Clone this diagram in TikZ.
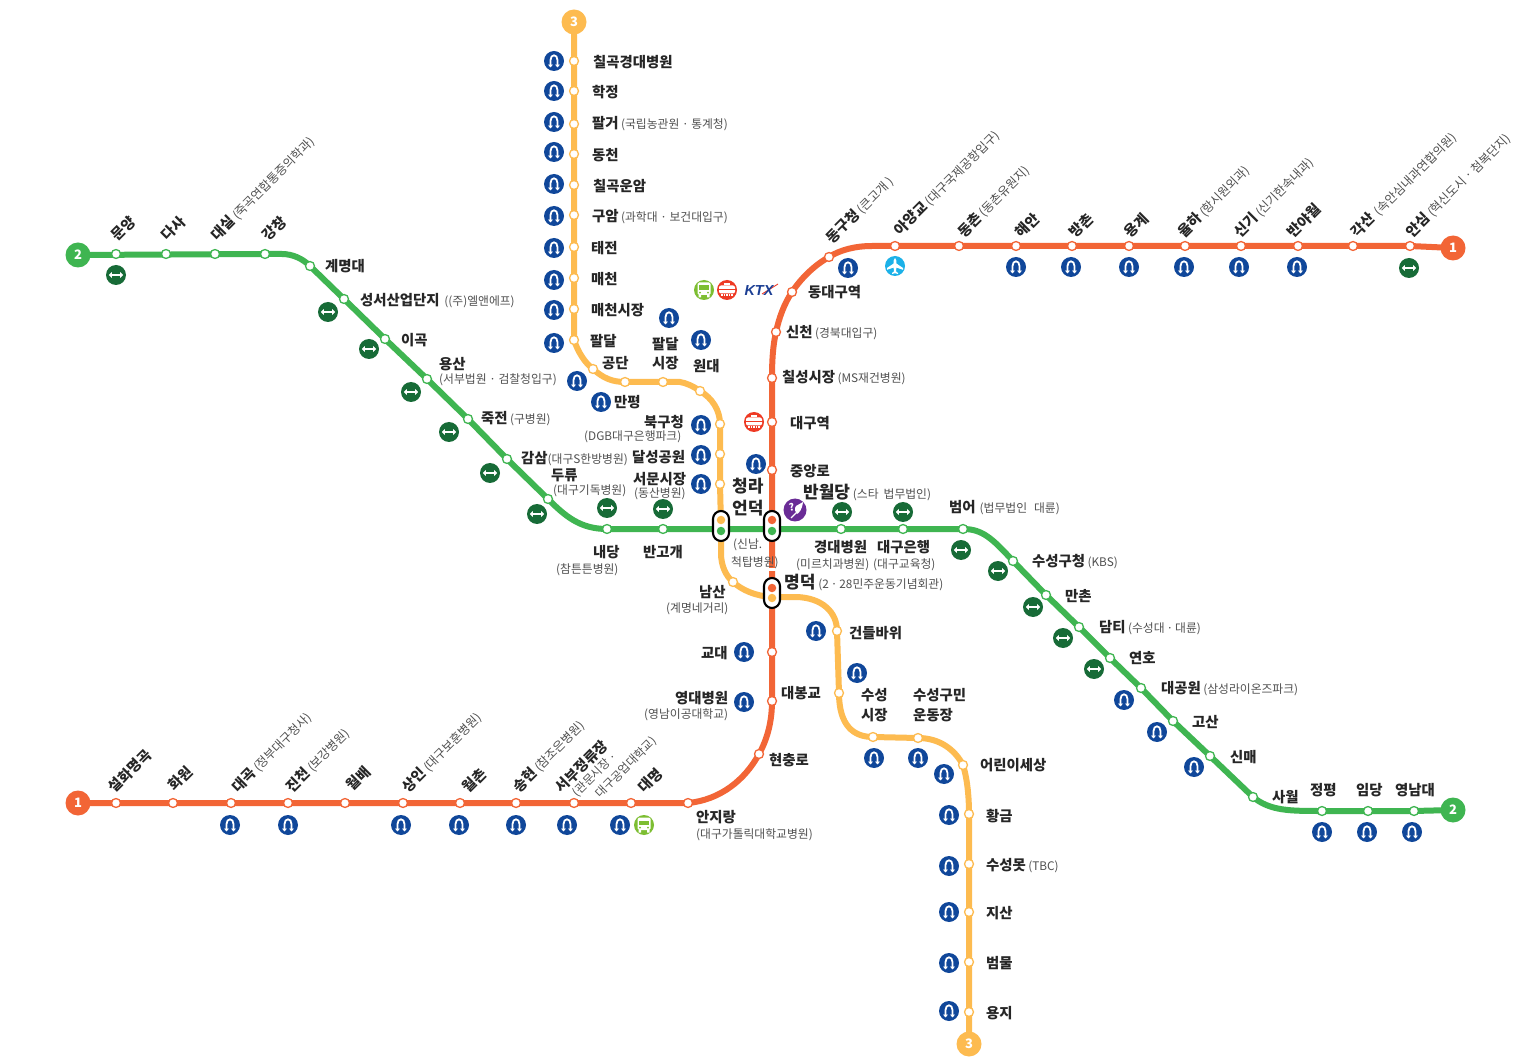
\documentclass[tikz,border=0pt]{standalone}
\usepackage{fontspec}
\setmainfont{Noto Sans CJK KR}
\newfontfamily\ktxfont{Liberation Sans}
\usetikzlibrary{arrows.meta,backgrounds}
\definecolor{lineA}{HTML}{F26536}
\definecolor{lineB}{HTML}{3FB551}
\definecolor{lineC}{HTML}{FDBB50}
\definecolor{subblue}{HTML}{10479A}
\definecolor{trgreen}{HTML}{176B37}
\definecolor{busgreen}{HTML}{7DBE32}
\definecolor{trainred}{HTML}{EE3A24}
\definecolor{aircyan}{HTML}{1CB1E8}
\definecolor{purp}{HTML}{6A2C96}
\definecolor{ktxblue}{HTML}{1C3F94}
\definecolor{txtgrey}{HTML}{505050}
\newcounter{nm}
\newcommand\pa[1]{{\mdseries\fontsize{11.8}{13}\selectfont\color{txtgrey}#1}}
\newcommand\rp[1]{{\mdseries\fontsize{12.3}{13}\selectfont\color{txtgrey}#1}}
\newcommand\lb[3]{\stepcounter{nm}\node[lab] (lab\arabic{nm}) at (#1,{#2+1}) {#3};}
\newcommand\bg[3]{\stepcounter{nm}\node[lab,font=\bfseries\fontsize{17}{18}\selectfont] (lab\arabic{nm}) at (#1,{#2+1}) {#3};}
\newcommand\rb[3]{\stepcounter{nm}\node[lab,rotate=45] (lab\arabic{nm}) at ({#1+3},#2) {#3};}
\tikzset{
  lab/.style={inner sep=0pt,anchor=west,text=black!85,font=\bfseries\fontsize{14.4}{16}\selectfont},
  stnbase/.style={circle,fill=white,draw,line width=1.3pt,inner sep=0pt,minimum size=9pt},
  stnA/.style={stnbase,draw=lineA},
  stnB/.style={stnbase,draw=lineB},
  stnC/.style={stnbase,draw=lineC},
  lineAs/.style={draw=lineA,line width=6pt},
  lineBs/.style={draw=lineB,line width=6pt},
  lineCs/.style={draw=lineC,line width=6pt},
  terminal/.style={circle,inner sep=0pt,minimum size=25pt,text=white,font=\bfseries\fontsize{13}{13}\selectfont},
  iconbase/.style={circle,inner sep=0pt,minimum size=20pt},
  subway/.style={iconbase,fill=subblue,path picture={
    \begin{scope}[shift={(path picture bounding box.center)}]
      \draw[white,line width=1.8pt,{Triangle[length=2.8pt,width=4.8pt]}-{Triangle[length=2.8pt,width=4.8pt]}]
        (-3.5,6.4) -- (-3.5,-1) .. controls (-3.5,-7.2) and (3.5,-7.2) .. (3.5,-1) -- (3.5,6.4);
    \end{scope}}},
  transfer/.style={iconbase,fill=trgreen,path picture={
    \begin{scope}[shift={(path picture bounding box.center)}]
      \draw[white,line width=1.6pt,{Triangle[length=3pt,width=5.6pt]}-{Triangle[length=3pt,width=5.6pt]}] (-7.2,0) -- (7.2,0);
    \end{scope}}},
  bus/.style={iconbase,fill=busgreen,path picture={
    \begin{scope}[shift={(path picture bounding box.center)}]
      \fill[white,rounded corners=1.5pt] (-6.5,-7.5) rectangle (6.5,5);
      \fill[busgreen] (-4.8,-4.5) rectangle (4.8,0);
      \fill[white] (-5.5,5) rectangle (-3,7.5) (3,5) rectangle (5.5,7.5);
      \fill[busgreen] (-4,2.6) circle (1) (4,2.6) circle (1);
    \end{scope}}},
  train/.style={iconbase,fill=trainred,path picture={
    \begin{scope}[shift={(path picture bounding box.center)}]
      \fill[white,rounded corners=2pt] (-8,-4.5) rectangle (8,3.5);
      \fill[trainred] (-9,-1.2) rectangle (9,0.2);
      \fill[white] (-3,-7) rectangle (3,-5);
      \foreach \q in {-5,-2.5,0,2.5,5} \fill[white] (\q-0.7,4.5) rectangle (\q+0.7,6);
    \end{scope}}},
  plane/.style={iconbase,fill=aircyan,path picture={
    \begin{scope}[shift={(path picture bounding box.center)}]
      \fill[white] (0,-8) .. controls (1.6,-7) and (1.4,-4) .. (1.4,-2.5) -- (8,2) -- (8,3.8) -- (1.4,1.6) -- (1,5.4) -- (3,7) -- (3,8) -- (0,7.2)
        -- (-3,8) -- (-3,7) -- (-1,5.4) -- (-1.4,1.6) -- (-8,3.8) -- (-8,2) -- (-1.4,-2.5) .. controls (-1.4,-4) and (-1.6,-7) .. (0,-8) -- cycle;
    \end{scope}}},
  purple/.style={iconbase,minimum size=23pt,fill=purp,path picture={
    \begin{scope}[shift={(path picture bounding box.center)}]
      \fill[white] (8,-8) -- (1,-4) .. controls (-1,-1) and (0,2) .. (2,4) .. controls (4,3) and (7,0) .. (8,-8) -- cycle;
      \draw[white,line width=1.2pt] (1.5,2.5) -- (-4,8);
      \node[text=white,font=\bfseries\fontsize{10}{10}\selectfont,inner sep=0pt,rotate=10] at (-3.5,-3) {?};
    \end{scope}}},
  hub/.style={draw=black,fill=white,line width=2.1pt,rounded corners=8pt,inner sep=0pt,minimum width=16pt,minimum height=30pt},
  huby/.style={circle,inner sep=0pt,minimum size=8.5pt}
}
\begin{document}
\begin{tikzpicture}[x=1pt,y=-1pt]
\useasboundingbox (0,0) rectangle (1519,1064);

% hubs
\node[hub] (hubC) at (721,526) {};
\node[hub] (hubB) at (772,526) {};
\node[hub] (hubM) at (772,593) {};
\node[huby,fill=lineC] (dotC1) at (721,520) {};
\node[huby,fill=lineB] (dotC2) at (721,531) {};
\node[huby,fill=lineA] (dotB1) at (772,520) {};
\node[huby,fill=lineB] (dotB2) at (772,531) {};
\node[huby,fill=lineA] (dotM1) at (772,588) {};
\node[huby,fill=lineC] (dotM2) at (772,598) {};

% terminals
\node[terminal,fill=lineA] (T1W) at (78,803) {1};
\node[terminal,fill=lineA] (T1E) at (1453,248) {1};
\node[terminal,fill=lineB] (T2W) at (78,255) {2};
\node[terminal,fill=lineB] (T2E) at (1453,810) {2};
\node[terminal,fill=lineC] (T3N) at (574,22) {3};
\node[terminal,fill=lineC] (T3S) at (969,1044) {3};

% stations
\foreach \n/\x/\y in {A1/116/803,A2/173/803,A3/231/803,A4/288/803,A5/345/803,A6/403/803,A7/460/803,A8/516/803,A9/574/803,A10/631/803,A11/688/803,A12/759/754,A13/772/701,A14/772/652,A15/772/470,A16/772/422,A17/772/378,A18/776/332,A19/792/292,A20/829/257,A21/895/246,A22/959/246,A23/1016/246,A24/1072/246,A25/1129/246,A26/1185/246,A27/1241/246,A28/1298/246,A29/1353/246,A30/1410/246}
  \node[stnA] (\n) at (\x,\y) {};
\foreach \n/\x/\y in {B1/116/254,B2/166/254,B3/215/254,B4/265/254,B5/310/266,B6/344/299,B7/385/339,B8/427/379,B9/468/419,B10/507/459,B11/548/499,B12/607/529,B13/663/529,B14/841/529,B15/903/529,B16/963/529,B17/1013/561,B18/1046/595,B19/1079/627,B20/1110/658,B21/1141/688,B22/1173/721,B23/1210/756,B24/1253/797,B25/1322/811,B26/1368/811,B27/1414/811}
  \node[stnB] (\n) at (\x,\y) {};
\foreach \n/\x/\y in {C1/574/61,C2/574/91,C3/574/124,C4/574/154,C5/574/185,C6/574/215,C7/574/247,C8/574/278,C9/574/309,C10/574/340,C11/593/369,C12/625/382,C13/663/382,C14/700/391,C15/720/424,C16/720/454,C17/720/484,C18/733/582,C19/837/631,C20/839/693,C21/873/737,C22/918/738,C23/963/765,C24/969/814,C25/969/864,C26/969/912,C27/969/962,C28/969/1012}
  \node[stnC] (\n) at (\x,\y) {};

\begin{pgfonlayer}{background}
  \fill[white] (0,0) rectangle (1519,1064);
  \draw[lineCs] (T3N.center) -- (C10.center)
    .. controls (578,352) and (585,363) .. (C11.center)
    .. controls (603,378) and (612,382) .. (C12.center) -- (C13.center) -- (680,382)
    .. controls (686,383) and (693,386) .. (C14.center)
    .. controls (712,398) and (720,410) .. (C15.center) -- (C17.center) -- (hubC.center) -- (721,553)
    .. controls (721,566) and (726,576) .. (C18.center)
    .. controls (742,590) and (755,596) .. (772,597) -- (797,597)
    .. controls (822,598) and (837,612) .. (C19.center) -- (C20.center)
    .. controls (839,725) and (853,737) .. (C21.center) -- (C22.center)
    .. controls (940,738) and (955,750) .. (C23.center)
    .. controls (967,778) and (969,795) .. (C24.center) -- (T3S.center);
  \draw[lineBs] (T2W.center) -- (B4.center) -- (282,254)
    .. controls (293,254) and (303,259) .. (B5.center) -- (B6.center) -- (B7.center) -- (B8.center) -- (B9.center) -- (B10.center) -- (B11.center)
    .. controls (565,516) and (580,529) .. (B12.center) -- (B13.center) -- (B14.center) -- (B15.center) -- (B16.center)
    .. controls (982,529) and (992,538) .. (B17.center) -- (B18.center) -- (B19.center) -- (B20.center) -- (B21.center) -- (B22.center) -- (B23.center) -- (B24.center)
    .. controls (1270,811) and (1290,811) .. (B25.center) -- (B26.center) -- (B27.center) -- (T2E.center);
  \draw[lineAs] (T1W.center) -- (A11.center)
    .. controls (720,800) and (745,780) .. (A12.center)
    .. controls (768,738) and (772,720) .. (A13.center) -- (A14.center) -- (hubM.center) -- (hubB.center) -- (A15.center) -- (A16.center) -- (A17.center)
    .. controls (772,360) and (773,345) .. (A18.center)
    .. controls (779,318) and (784,304) .. (A19.center)
    .. controls (802,277) and (815,265) .. (A20.center)
    .. controls (840,250) and (855,246) .. (872,246) -- (A21.center) -- (A30.center) -- (T1E.center);
\end{pgfonlayer}

% service icons
\foreach \x/\y [count=\i] in {554/61,554/91,554/122,554/152,554/184,554/216,554/248,554/280,554/310,554/343,577/381,601/402,669/318,701/340,701/425,701/455,701/484,756/464,848/268,1016/267,1071/267,1129/267,1184/267,1239/267,1297/267,230/825,288/825,401/825,459/825,516/825,567/825,620/825,744/652,744/702,816/631,857/673,874/758,918/758,944/774,949/815,949/866,949/912,949/963,949/1011,1124/700,1157/732,1194/767,1322/832,1367/832,1412/832}
  \node[subway] (sub\i) at (\x,\y) {};
\foreach \x/\y [count=\i] in {116/275,328/312,369/349,411/392,449/432,490/473,537/514,607/508,663/509,842/512,903/512,961/550,998/571,1033/607,1063/638,1094/669,1409/268}
  \node[transfer] (trf\i) at (\x,\y) {};
\node[bus] (bus1) at (704,290) {};
\node[bus] (bus2) at (644,825) {};
\node[train] (train1) at (727,290) {};
\node[train] (train2) at (754,422) {};
\node[plane] (air1) at (895,266) {};
\node[purple] (key1) at (795,510) {};
\coordinate (ktxa) at (762,294);
\coordinate (ktxb) at (778,284);
\draw[trainred,line width=0.9pt] (ktxa) -- (ktxb);
\node[inner sep=0pt,text=ktxblue,font=\ktxfont\bfseries\itshape\fontsize{14.5}{14}\selectfont] (ktx) at (759,291) {KTX};

% white gap in line 1 under the label
\fill[white] (764,568) rectangle (780,571);

% line 2 labels
\rb{111}{238}{문양}
\rb{161}{238}{다사}
\rb{211}{238}{대실\,\rp{(죽곡연합통증의학과)}}
\rb{262}{238}{강창}
\lb{325}{265}{계명대}
\lb{360}{300}{성서산업단지\,\,\pa{((주)엘앤에프)}}
\lb{401}{339}{이곡}
\lb{439}{363}{용산}
\lb{439}{379}{\pa{(서부법원 · 검찰청입구)}}
\lb{481}{418}{죽전\,\pa{(구병원)}}
\lb{521}{458}{감삼\pa{(대구S한방병원)}}
\lb{551}{474}{두류}
\lb{553}{490}{\pa{(대구기독병원)}}
\lb{593}{551}{내당}
\lb{556}{569}{\pa{(참튼튼병원)}}
\lb{643}{551}{반고개}
\bg{732}{485}{청라}
\bg{732}{507}{언덕}
\lb{733}{544}{\pa{(신남.}}
\lb{731}{562}{\pa{척탑병원)}}
\bg{803}{491}{반월당\,\pa{(스타\hspace{5pt}법무법인)}}
\lb{814}{546}{경대병원}
\lb{796}{564}{\pa{(미르치과병원)}}
\lb{877}{546}{대구은행}
\lb{873}{564}{\pa{(대구교육청)}}
\lb{949}{507}{범어\hspace{4pt}\pa{(법무법인\hspace{7pt}대륜)}}
\lb{1032}{561}{수성구청\,\pa{(KBS)}}
\lb{1065}{595}{만촌}
\lb{1099}{627}{담티\,\pa{(수성대\,·\,대륜)}}
\lb{1129}{657}{연호}
\lb{1161}{688}{대공원\,\pa{(삼성라이온즈파크)}}
\lb{1192}{721}{고산}
\lb{1230}{756}{신매}
\lb{1272}{796}{사월}
\lb{1310}{789}{정평}
\lb{1356}{789}{임당}
\lb{1395}{789}{영남대}

% line 1 labels
\rb{108}{790}{설화명곡}
\rb{168}{788}{화원}
\rb{232}{790}{대곡\,\rp{(정부대구청사)}}
\rb{286}{790}{진천\,\rp{(보강병원)}}
\rb{346}{788}{월배}
\rb{402}{790}{상인\,\rp{(대구보훈병원)}}
\rb{462}{790}{월촌}
\rb{513}{790}{송현\,\rp{(참조은병원)}}
\rb{555}{790}{서부정류장}
\rb{572}{795}{\pa{(관문시장 ·}}
\rb{595}{796}{\pa{대구공업대학교)}}
\rb{638}{790}{대명}
\lb{696}{816}{안지랑}
\lb{696}{834}{\pa{(대구가톨릭대학교병원)}}
\lb{769}{759}{현충로}
\lb{675}{697}{영대병원}
\lb{644}{714}{\pa{(영남이공대학교)}}
\lb{781}{692}{대봉교}
\lb{701}{652}{교대}
\bg{784}{581}{명덕\,\pa{(2\,·\,28민주운동기념회관)}}
\lb{790}{470}{중앙로}
\lb{790}{422}{대구역}
\lb{782}{377}{칠성시장\,\pa{(MS재건병원)}}
\lb{786}{332}{신천\,\pa{(경북대입구)}}
\lb{808}{291}{동대구역}
\rb{826}{241}{동구청\,\rp{(큰고개 )}}
\rb{894}{233}{아양교\,\rp{(대구국제공항입구)}}
\rb{958}{235}{동촌\,\rp{(동촌유원지)}}
\rb{1015}{235}{해안}
\rb{1069}{235}{방촌}
\rb{1124}{235}{용계}
\rb{1178}{235}{율하\,\rp{(항시원외과)}}
\rb{1234}{235}{신기\,\rp{(신기한속내과)}}
\rb{1287}{235}{반야월}
\rb{1351}{235}{각산\hspace{4pt}\rp{(속안심내과연합의원)}}
\rb{1406}{235}{안심\,\rp{(혁신도시 · 첨복단지)}}

% line 3 labels
\lb{593}{61}{칠곡경대병원}
\lb{592}{91}{학정}
\lb{592}{123}{팔거\,\pa{(국립농관원 · 통계청)}}
\lb{592}{154}{동천}
\lb{593}{185}{칠곡운암}
\lb{592}{216}{구암\,\pa{(과학대 · 보건대입구)}}
\lb{591}{247}{태전}
\lb{591}{278}{매천}
\lb{591}{309}{매천시장}
\lb{590}{340}{팔달}
\lb{602}{362}{공단}
\lb{614}{401}{만평}
\lb{652}{343}{팔달}
\lb{652}{362}{시장}
\lb{693}{365}{원대}
\lb{644}{421}{북구청}
\lb{584}{436}{\pa{(DGB대구은행파크)}}
\lb{632}{456}{달성공원}
\lb{633}{478}{서문시장}
\lb{634}{493}{\pa{(동산병원)}}
\lb{699}{591}{남산}
\lb{666}{608}{\pa{(계명네거리)}}
\lb{849}{632}{건들바위}
\lb{861}{694}{수성}
\lb{861}{714}{시장}
\lb{913}{694}{수성구민}
\lb{913}{714}{운동장}
\lb{980}{764}{어린이세상}
\lb{986}{815}{황금}
\lb{986}{865}{수성못\,\pa{(TBC)}}
\lb{986}{912}{지산}
\lb{986}{962}{범물}
\lb{986}{1012}{용지}
\end{tikzpicture}
\end{document}
